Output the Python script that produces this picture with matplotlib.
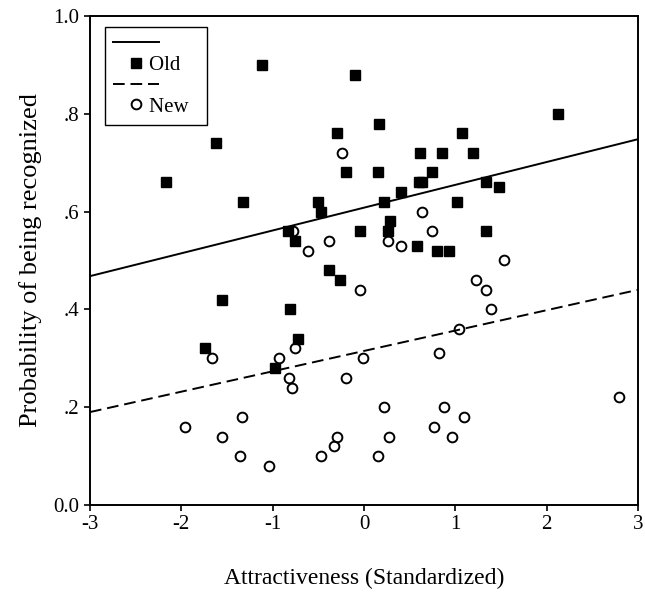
#!/usr/bin/env python
import matplotlib
matplotlib.use('Agg')
import matplotlib.pyplot as plt
from matplotlib.lines import Line2D

plt.rcParams['font.family'] = 'Liberation Serif'
plt.rcParams['axes.unicode_minus'] = False

# old faces (filled squares)
old_x = [-1.12, -0.10, -1.62, -2.17, -0.29, -0.20, -1.33, -0.50, -0.47, -0.83,
         -0.04, 0.17, 1.07, 2.12, 0.61, 0.85, 1.19, 0.15, 0.74, 0.60,
         0.63, 1.34, 1.48, 0.40, 0.22, 1.02, 0.28, 0.26, 1.34, -0.76,
         -0.38, -0.26, -1.55, -0.81, -0.72, -1.74, -0.97, 0.58, 0.80, 0.93]
old_y = [0.90, 0.88, 0.74, 0.66, 0.76, 0.68, 0.62, 0.62, 0.60, 0.56,
         0.56, 0.78, 0.76, 0.80, 0.72, 0.72, 0.72, 0.68, 0.68, 0.66,
         0.66, 0.66, 0.65, 0.64, 0.62, 0.62, 0.58, 0.56, 0.56, 0.54,
         0.48, 0.46, 0.42, 0.40, 0.34, 0.32, 0.28, 0.53, 0.52, 0.52]

# new faces (open circles)
new_x = [-0.24, 0.63, 0.74, 0.26, 0.41, -0.78, -0.61, -0.38, -0.04, -0.76,
         -1.66, -0.93, -0.82, -0.79, -0.20, -0.01, -1.34, -1.96, -1.55, -1.36,
         -1.04, -0.29, -0.33, -0.47, 1.53, 1.23, 1.34, 1.39, 1.04, 0.82,
         2.79, 0.22, 0.88, 1.09, 0.77, 0.96, 0.27, 0.15]
new_y = [0.72, 0.60, 0.56, 0.54, 0.53, 0.56, 0.52, 0.54, 0.44, 0.32,
         0.30, 0.30, 0.26, 0.24, 0.26, 0.30, 0.18, 0.16, 0.14, 0.10,
         0.08, 0.14, 0.12, 0.10, 0.50, 0.46, 0.44, 0.40, 0.36, 0.31,
         0.22, 0.20, 0.20, 0.18, 0.16, 0.14, 0.14, 0.10]

# fit lines, read at the ends of the x range
line_x = [-3, 3]
old_line_y = [0.468, 0.748]
new_line_y = [0.190, 0.440]

x_ticks = [-3, -2, -1, 0, 1, 2, 3]
x_tick_labels = ['-3', '-2', '-1', '0', '1', '2', '3']
y_ticks = [0.0, 0.2, 0.4, 0.6, 0.8, 1.0]
y_tick_labels = ['0.0', '.2', '.4', '.6', '.8', '1.0']

fig = plt.figure(figsize=(6.45, 5.92), dpi=100)
ax = fig.add_axes([0.1395, 0.147, 0.8496, 0.826])

ax.plot(line_x, old_line_y, color='black', lw=1.4)
ax.plot(line_x, new_line_y, color='black', lw=1.4, dashes=(6, 3))
ax.plot(old_x, old_y, 's', color='black', markersize=7, linestyle='none')
ax.plot(new_x, new_y, 'o', markerfacecolor='none', markeredgecolor='black',
        markeredgewidth=1.4, markersize=7, linestyle='none')

ax.set_xlim(-3, 3)
ax.set_ylim(0, 1)
ax.set_xticks(x_ticks)
ax.set_xticklabels(x_tick_labels)
ax.set_yticks(y_ticks)
ax.set_yticklabels(y_tick_labels)
ax.tick_params(direction='out', length=4, width=1.2, labelsize=15, colors='black')
for s in ax.spines.values():
    s.set_linewidth(1.4)

ax.set_xlabel('Attractiveness (Standardized)', fontsize=17, labelpad=24)
ax.set_ylabel('Probability of being recognized', fontsize=19, labelpad=8)

handles = [
    Line2D([], [], color='black', lw=1.4),
    Line2D([], [], marker='s', color='black', markersize=7, linestyle='none'),
    Line2D([], [], color='black', lw=1.4, dashes=(6, 3)),
    Line2D([], [], marker='o', markerfacecolor='none', markeredgecolor='black',
           markeredgewidth=1.4, markersize=7, linestyle='none'),
]
labels = [' ', 'Old  ', ' ', 'New  ']
leg = ax.legend(handles, labels, loc='upper left', bbox_to_anchor=(0.027, 0.978),
                borderaxespad=0, fancybox=False, framealpha=1, edgecolor='black',
                fontsize=15, handlelength=2.2, handletextpad=-0.5,
                labelspacing=0.05, borderpad=0.4)
leg.get_frame().set_linewidth(1.0)

plt.savefig('out.png', dpi=100)
